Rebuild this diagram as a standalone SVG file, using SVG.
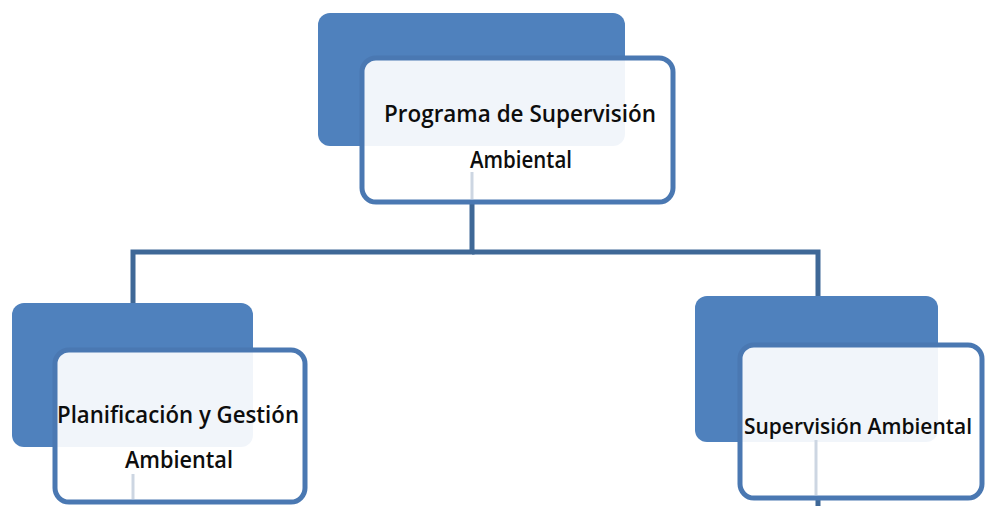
<svg xmlns="http://www.w3.org/2000/svg" width="986" height="506" viewBox="0 0 986 506">
<style>
.back{fill:#4f81bd;}
.front{fill:#ffffff;fill-opacity:0.92;stroke:#4a78b2;stroke-width:5;}
.conn{fill:none;stroke:#3f6897;stroke-width:5;}
.ghost{fill:none;stroke:#cdd6e2;stroke-width:3;}
.lbl{font-family:"Open Sans","Noto Sans","Liberation Sans",sans-serif;font-size:23px;font-weight:600;fill:#0d0d0d;text-anchor:middle;}
.lbl-s{font-size:21px;}
</style>
<rect width="986" height="506" fill="#ffffff"/>
<g id="connectors">
<path class="conn" d="M472,202 V252 H133 V303"/>
<path class="conn" d="M472,252 H818 V296"/>
<path class="conn" d="M818,498 V506"/>
</g>
<g id="node-top">
<rect class="back" x="318" y="13" width="307" height="133" rx="12"/>
<rect class="front" x="362" y="58" width="311" height="144" rx="14"/>
<line class="ghost" x1="472" y1="172" x2="472" y2="199"/>
<text class="lbl" x="520" y="122" textLength="272" lengthAdjust="spacingAndGlyphs">Programa de Supervisión</text>
<text class="lbl" x="521" y="168" textLength="102" lengthAdjust="spacingAndGlyphs">Ambiental</text>
</g>
<g id="node-left">
<rect class="back" x="12" y="303" width="241" height="144" rx="12"/>
<rect class="front" x="55" y="350" width="250" height="152" rx="14"/>
<line class="ghost" x1="133" y1="474" x2="133" y2="499"/>
<text class="lbl" x="178" y="423" textLength="242" lengthAdjust="spacingAndGlyphs">Planificación y Gestión</text>
<text class="lbl" x="179" y="468" textLength="108" lengthAdjust="spacingAndGlyphs">Ambiental</text>
</g>
<g id="node-right">
<rect class="back" x="695" y="296" width="243" height="146" rx="12"/>
<rect class="front" x="740" y="345" width="242" height="153" rx="14"/>
<line class="ghost" x1="816" y1="440" x2="816" y2="495"/>
<text class="lbl lbl-s" x="858" y="434" textLength="228" lengthAdjust="spacingAndGlyphs">Supervisión Ambiental</text>
</g>
</svg>
